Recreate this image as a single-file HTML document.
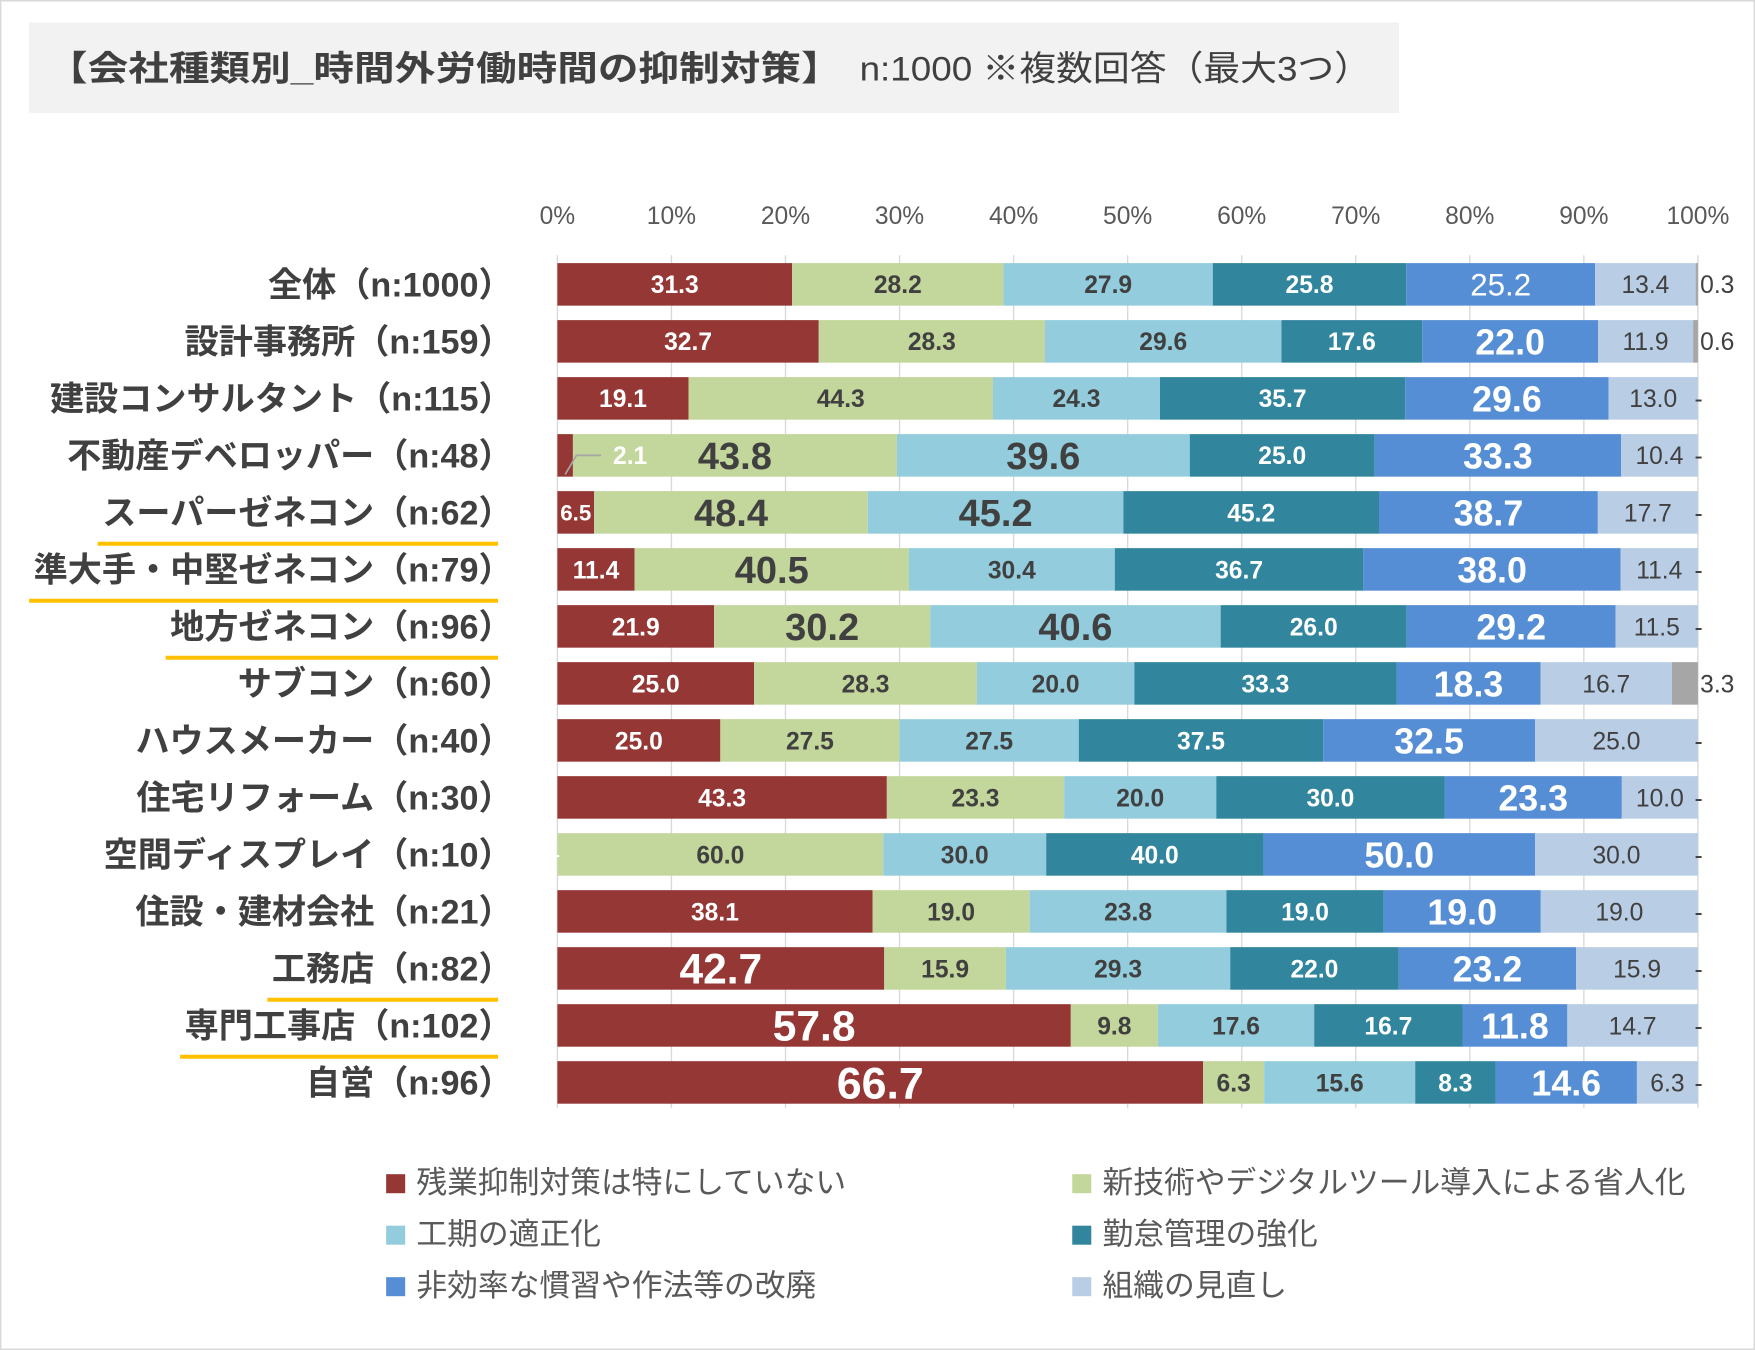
<!DOCTYPE html>
<html><head><meta charset="utf-8"><style>
html,body{margin:0;padding:0;background:#fff}
svg{display:block}
text{font-family:"Liberation Sans","Noto Sans CJK JP",sans-serif}
</style></head><body>
<svg id="chart" width="1755" height="1350" viewBox="0 0 1568 1206" xmlns="http://www.w3.org/2000/svg">
<rect x="0.5" y="0.5" width="1567" height="1205" fill="#fff" stroke="#d9d9d9" stroke-width="1.5"/>
<rect x="26" y="20" width="1224" height="81" fill="#f2f2f2"/>
<text x="42" y="72" font-size="31" font-weight="bold" fill="#404040" textLength="710" lengthAdjust="spacingAndGlyphs">【会社種類別_時間外労働時間の抑制対策】</text>
<text x="768" y="72" font-size="31" fill="#404040" textLength="457" lengthAdjust="spacingAndGlyphs">n:1000 ※複数回答（最大3つ）</text>
<g id="grid"></g><g id="bars"></g><g id="labels"></g><g id="legend"></g>
</svg>
<script>
const categories=["全体（n:1000）","設計事務所（n:159）","建設コンサルタント（n:115）","不動産デベロッパー（n:48）","スーパーゼネコン（n:62）","準大手・中堅ゼネコン（n:79）","地方ゼネコン（n:96）","サブコン（n:60）","ハウスメーカー（n:40）","住宅リフォーム（n:30）","空間ディスプレイ（n:10）","住設・建材会社（n:21）","工務店（n:82）","専門工事店（n:102）","自営（n:96）"];
const seriesNames=["残業抑制対策は特にしていない","新技術やデジタルツール導入による省人化","工期の適正化","勤怠管理の強化","非効率な慣習や作法等の改廃","組織の見直し","その他"];
const s1=[31.3,32.7,19.1,2.1,6.5,11.4,21.9,25.0,25.0,43.3,0,38.1,42.7,57.8,66.7];
const s2=[28.2,28.3,44.3,43.8,48.4,40.5,30.2,28.3,27.5,23.3,60.0,19.0,15.9,9.8,6.3];
const s3=[27.9,29.6,24.3,39.6,45.2,30.4,40.6,20.0,27.5,20.0,30.0,23.8,29.3,17.6,15.6];
const s4=[25.8,17.6,35.7,25.0,45.2,36.7,26.0,33.3,37.5,30.0,40.0,19.0,22.0,16.7,8.3];
const s5=[25.2,22.0,29.6,33.3,38.7,38.0,29.2,18.3,32.5,23.3,50.0,19.0,23.2,11.8,14.6];
const s6=[13.4,11.9,13.0,10.4,17.7,11.4,11.5,16.7,25.0,10.0,30.0,19.0,15.9,14.7,6.3];
const s7=[0.3,0.6,0,0,0,0,0,3.3,0,0,0,0,0,0,0];
const tickLabels=["0%","10%","20%","30%","40%","50%","60%","70%","80%","90%","100%"];
const underlined=[4,5,6,12,13];

const series=[s1,s2,s3,s4,s5,s6,s7];
const colors=["#953735","#c3d69b","#93cddd","#31859c","#558ed5","#b9cde5","#a6a6a6"];
const txtCol=["#fff","#404040","#404040","#fff","#fff","#404040","#404040"];
const X0=498,X1=1517,Y0=254,PITCH=50.93,BH=38;
const xs=f=>X0+f*(X1-X0);
const yc=i=>Y0+i*PITCH;
const NS="http://www.w3.org/2000/svg";
function mk(tag,attrs,parent){const e=document.createElementNS(NS,tag);for(const k in attrs)e.setAttribute(k,attrs[k]);parent.appendChild(e);return e;}
const grid=document.getElementById('grid'),bars=document.getElementById('bars'),labels=document.getElementById('labels'),legend=document.getElementById('legend');

tickLabels.forEach((t,i)=>{
  const x=xs(i/(tickLabels.length-1));
  const l=mk('line',{x1:x,x2:x,y1:228,y2:990,stroke:'#d9d9d9','stroke-width':1.2},grid);
  
  
  const tx=mk('text',{x:x,y:200,'text-anchor':'middle','font-size':22,fill:'#595959'},grid);
  tx.textContent=t;
  
  
});

const big={"3-1":34,"3-2":34,"4-1":34,"4-2":34,"5-1":34,"6-1":34,"6-2":34,"12-0":38,"13-0":38,"14-0":40};

categories.forEach((c,i)=>{
  const y=yc(i);
  const ct=mk('text',{x:458,y:y+11,'text-anchor':'end','font-size':30.5,'font-weight':'bold',fill:'#404040'},labels);
  ct.textContent=c;
  
  
  if(underlined.includes(i)){
    const w=ct.getComputedTextLength();
    const u=mk('line',{x1:458-w-4,x2:445,y1:y+28,y2:y+28,stroke:'#ffc000','stroke-width':3.5},labels);
    
    
  }
  const total=series.reduce((a,s)=>a+s[i],0);
  let cum=0;
  series.forEach((s,k)=>{
    const v=s[i];
    const xa=xs(cum/total),xb=xs((cum+v)/total);
    cum+=v;
    if(v>0){
      const r=mk('rect',{x:xa,y:y-BH/2,width:xb-xa,height:BH,fill:colors[k]},bars);
      
      
    }
    let lx=(xa+xb)/2,anchor='middle',fs=22,fw='bold',col=txtCol[k],txt=v.toFixed(1);
    if(k===4) fs=32;
    if(i===0&&k===4){fs=28;fw='normal';}
    if(k===5) fw='normal';
    if(big[i+'-'+k]) fs=big[i+'-'+k];
    if(k===6){lx=1519;anchor='start';fw='normal';fs=22;if(v===0){txt='-';lx=1514;}}
    if(v===0&&k!==6){txt='-';fs=14;}
    if(i===3&&k===0){lx=563;col='#fff';
      const ll=mk('polyline',{points:`${(xa+xb)/2},${y+17} 515,${y} 537,${y}`,fill:'none',stroke:'#a6a6a6','stroke-width':1.5},labels);
      
      }
    if(i===4&&k===0){fs=20;}
    const t=mk('text',{x:lx,y:y+fs*0.36,'text-anchor':anchor,'font-size':fs,'font-weight':fw,fill:col},labels);
    t.textContent=txt;
    
    
  });
});

seriesNames.slice(0,6).forEach((n,k)=>{
  const col=k%2,row=Math.floor(k/2);
  const x=col===0?345:958,y=1057+row*46;
  const r=mk('rect',{x:x,y:y-8,width:17,height:17,fill:colors[k]},legend);
  
  
  const t=mk('text',{x:x+27,y:y+9,'font-size':27.5,fill:'#595959'},legend);
  t.textContent=n;
  
  
});
</script>
</body></html>
